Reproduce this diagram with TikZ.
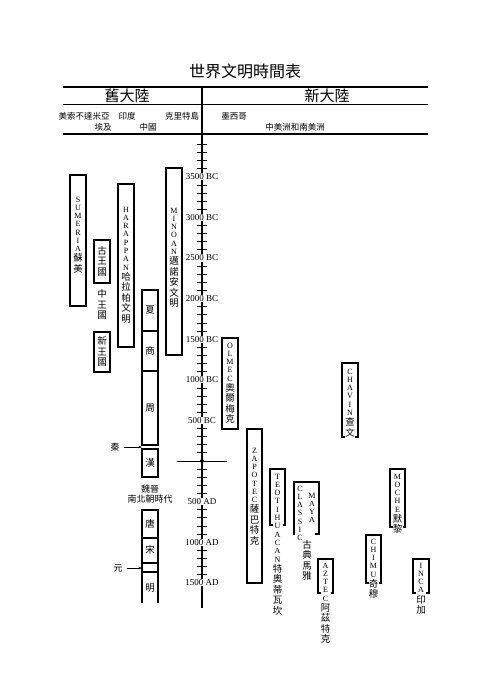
\documentclass[tikz,border=0pt]{standalone}
\usepackage{fontspec}
\setmainfont{Liberation Serif}
\newfontfamily\cjk{Noto Sans CJK TC}
\usetikzlibrary{arrows.meta}
\makeatletter
\newcommand\vt[2]{\vbox{\offinterlineskip
 \@tfor\vtc:=#1\do{\hbox to 9pt{\hss\vrule height 6.8pt depth 1.5pt width 0pt\fontsize{8}{8}\selectfont\vtc\hss}}%
 \@tfor\vtc:=#2\do{\hbox to 9pt{\hss\vrule height 8.6pt depth 1.9pt width 0pt\cjk\fontsize{9.5}{10}\selectfont\vtc\hss}}}}
\makeatother
\tikzset{
 box/.style={draw, line width=1.1pt},
 vtx/.style={fill=white, inner sep=0.5pt},
 hdr/.style={font=\cjk\fontsize{15}{15}\selectfont, inner sep=0pt},
 sm/.style={font=\cjk\fontsize{8.5}{9}\selectfont, inner sep=0pt},
 yr/.style={fill=white, inner sep=0.6pt, font=\fontsize{9}{10}\selectfont},
 tickline/.style={line width=0.8pt},
 arr/.style={-{Stealth[length=3.5pt,width=2.6pt]}, line width=0.7pt},
}
\begin{document}
\begin{tikzpicture}[x=1pt,y=-1pt]
\useasboundingbox (0,0) rectangle (500,692);
% title and header
\node[font=\cjk\fontsize{16}{16}\selectfont] (title) at (245,71) {世界文明時間表};
\draw[line width=1.1pt] (63,87) -- (428,87);
\draw[line width=0.8pt] (63,104) -- (428,104);
\draw[line width=1.1pt] (63,134) -- (428,134);
\node[hdr] (old) at (127,96) {舊大陸};
\node[hdr] (new) at (327,96) {新大陸};
\node[sm] (h1) at (84,116) {美索不達米亞};
\node[sm] (h2) at (127,116) {印度};
\node[sm] (h3) at (182,116) {克里特島};
\node[sm] (h4) at (234,116) {墨西哥};
\node[sm] (h5) at (103,127) {埃及};
\node[sm] (h6) at (148,127) {中國};
\node[sm] (h7) at (295,127) {中美洲和南美洲};
% axis
\draw[line width=1.1pt] (202,87) -- (202,608);
\foreach \k in {-39,...,14}{
  \pgfmathtruncatemacro\m{mod(abs(\k),5)}
  \pgfmathsetmacro\yy{461+8.12*\k}
  \ifnum\m=0\relax\else
    \draw[tickline] (197,\yy) -- (207,\yy);
  \fi
}
\draw[line width=0.8pt] (177,461) -- (227,461);
\fill (202,461) circle (2pt);
\foreach \t/\k [count=\i] in {3500 BC/-35,3000 BC/-30,2500 BC/-25,2000 BC/-20,1500 BC/-15,1000 BC/-10,500 BC/-5,500 AD/5,1000 AD/10,1500 AD/15}{
  \pgfmathsetmacro\yy{461+8.12*\k}
  \node[yr] (yl\i) at (202,\yy) {\t};
}
% old world boxes
\draw[box] (70,175) rectangle (86,306);
\draw[box] (94,240) rectangle (110,283);
\draw[box] (94,332) rectangle (110,372);
\draw[box] (118,184) rectangle (134,347);
\draw[box] (166,168) rectangle (182,355);
% China
\draw[box] (142,290) rectangle (158,331);
\draw[box] (142,331) rectangle (158,371);
\draw[box] (142,371) rectangle (158,445);
\draw[box] (142,449) rectangle (158,477);
\draw[box] (142,510) rectangle (158,538);
\draw[box] (142,538) rectangle (158,563);
\draw[box] (142,563) rectangle (158,572);
\draw[box] (142,603) -- (142,572) -- (158,572) -- (158,603);
% new world boxes
\draw[box] (222,338) rectangle (238,429);
\draw[box] (247,429) rectangle (262,583);
\draw[box] (270,469) rectangle (285,525);
\draw[box] (298,534) -- (294,534) -- (294,482) -- (319,482) -- (319,534) -- (315,534);
\draw[box] (318,559) rectangle (333,593);
\draw[box] (342,363) rectangle (358,437);
\draw[box] (390,469) rectangle (405,527);
\draw[box] (366,535) rectangle (381,583);
\draw[box] (413,559) rectangle (429,593);
% vertical texts
\node[vtx, anchor=north] (sum) at (78,194.5) {\vt{SUMERIA}{蘇美}};
\node[vtx] (gu) at (102,261.5) {\vt{}{古王國}};
\node[vtx] (zh) at (102,305) {\vt{}{中王國}};
\node[vtx] (xin) at (102,352) {\vt{}{新王國}};
\node[vtx, anchor=north] (har) at (126,204.5) {\vt{HARAPPAN}{哈拉帕文明}};
\node[vtx, anchor=north] (min) at (174,205.5) {\vt{MINOAN}{邁諾安文明}};
\node[vtx] (xia) at (150,310.5) {\vt{}{夏}};
\node[vtx] (shang) at (150,351) {\vt{}{商}};
\node[vtx] (zhou) at (150,408) {\vt{}{周}};
\node[vtx] (han) at (150,463) {\vt{}{漢}};
\node[vtx] (tang) at (150,524) {\vt{}{唐}};
\node[vtx] (song) at (150,550.5) {\vt{}{宋}};
\node[vtx] (ming) at (150,588) {\vt{}{明}};
\node[font=\cjk\fontsize{9}{10.5}\selectfont, align=center, inner sep=0pt] (wei) at (150,494) {魏晉\\南北朝時代};
\node[font=\cjk\fontsize{9}{10}\selectfont, inner sep=4pt] (qin) at (115,447) {秦};
\coordinate (qinend) at (142,447);
\draw[arr] (qin.east) -- (qinend);
\node[font=\cjk\fontsize{9}{10}\selectfont, inner sep=4pt] (yuan) at (118,568) {元};
\coordinate (yuanend) at (142,568);
\draw[arr] (yuan.east) -- (yuanend);
\node[vtx, anchor=north] (olm) at (230,340.5) {\vt{OLMEC}{奧爾梅克}};
\node[vtx, anchor=north] (zap) at (254.5,445.5) {\vt{ZAPOTEC}{薩巴特克}};
\node[vtx, anchor=north] (teo) at (277.5,471.5) {\vt{TEOTIHUACAN}{特奧蒂瓦坎}};
\node[vtx, anchor=north] (cla) at (300,483.5) {\vt{CLASSIC}{}};
\node[vtx, anchor=north] (maya) at (312,490.5) {\vt{MAYA}{}};
\node[vtx, anchor=north] (gdmy) at (307,539) {\vt{}{古典馬雅}};
\node[vtx, anchor=north] (azt) at (325.5,560.5) {\vt{AZTEC}{阿茲特克}};
\node[vtx, anchor=north] (cha) at (350,366.5) {\vt{CHAVIN}{查文}};
\node[vtx, anchor=north] (moc) at (397.5,471.5) {\vt{MOCHE}{默黎}};
\node[vtx, anchor=north] (chi) at (373.5,536.5) {\vt{CHIMU}{奇穆}};
\node[vtx, anchor=north] (inc) at (421,560.5) {\vt{INCA}{印加}};
\end{tikzpicture}
\end{document}
